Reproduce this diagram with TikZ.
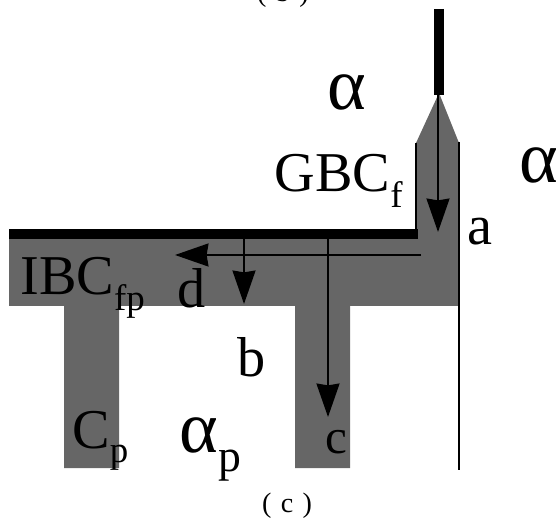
\documentclass[tikz,border=0pt]{standalone}
\usepackage{fontspec}
\setmainfont{Liberation Serif}
\usepackage{xcolor}
\definecolor{grayphase}{RGB}{102,102,102}
\usetikzlibrary{arrows.meta, positioning}
\newcommand{\lowsub}[2]{\raisebox{-#1}{\fontsize{21}{21}\selectfont #2}}

\begin{document}
\begin{tikzpicture}[x=0.02cm, y=-0.02cm,
  film/.style={fill=grayphase, draw=none},
  bound/.style={line width=#1, draw=black},
  path arrow/.style={line width=1.4pt, -{Stealth[length=19pt, width=13pt, inset=1pt]}},
  lbl/.style={inner sep=0pt, anchor=base, font=\fontsize{32}{32}\selectfont},
  bigl/.style={inner sep=0pt, anchor=base, font=\fontsize{42}{42}\selectfont},
  capt/.style={inner sep=0pt, anchor=base, font=\fontsize{16}{16}\selectfont}
]
\useasboundingbox (0,0) rectangle (560,519);

% Gray film
\fill[film] (439,93) -- (416,143) -- (416,239) -- (9,239) -- (9,306) -- (64,306) -- (64,468)
  -- (119,468) -- (119,306) -- (295,306) -- (295,468) -- (350,468) -- (350,306) -- (459,306)
  -- (459,143) -- cycle;

% Boundaries
\coordinate (gbtop) at (439,9);
\coordinate (gbend) at (439,95);
\coordinate (cornerr) at (418,234);
\coordinate (ibcend) at (9,234);
\draw[bound=5.6pt] (gbtop) -- (gbend);
\draw[bound=5.6pt] (cornerr) -- (ibcend);
\draw[bound=1.4pt] (416,143) -- (416,234);
\draw[bound=1.6pt] (459,142) -- (459,470);

% Arrows
\coordinate (astart) at (438,93);
\coordinate (aend) at (438,232);
\coordinate (dstart) at (421,255);
\coordinate (dend) at (175,255);
\coordinate (bstart) at (244,239);
\coordinate (bend) at (244,304);
\coordinate (cstart) at (328,239);
\coordinate (cend) at (328,417);
\draw[path arrow] (astart) -- (aend);
\draw[path arrow] (dstart) -- (dend);
\draw[path arrow] (bstart) -- (bend);
\draw[path arrow] (cstart) -- (cend);

% Labels
\node[bigl] (alphaa) at (347,110) {α};
\node[bigl] (alphab) at (539,183) {α};
\node[lbl, anchor=base east] (gbc) at (403,192) {GBC\lowsub{9pt}{f}};
\node[lbl] (la) at (480,245) {a};
\node[lbl, anchor=base west] (ibc) at (20,295) {IBC\lowsub{9pt}{fp}};
\node[lbl] (ld) at (192,308) {d};
\node[lbl] (lb) at (252,377) {b};
\node[lbl, anchor=base west] (cp) at (72,448) {C\lowsub{8.5pt}{p}};
\node[bigl, anchor=base west] (alphap) at (179,452) {α\raisebox{-11pt}{\fontsize{26}{26}\selectfont p}};
\node[lbl, font=\fontsize{28}{28}\selectfont] (lc) at (336,453) {c};
\node[capt] (capc) at (287,512) {(\,\,c\,\,)};
\node[capt] (capb) at (283,2) {(\,\,b\,\,)};
\end{tikzpicture}
\end{document}
